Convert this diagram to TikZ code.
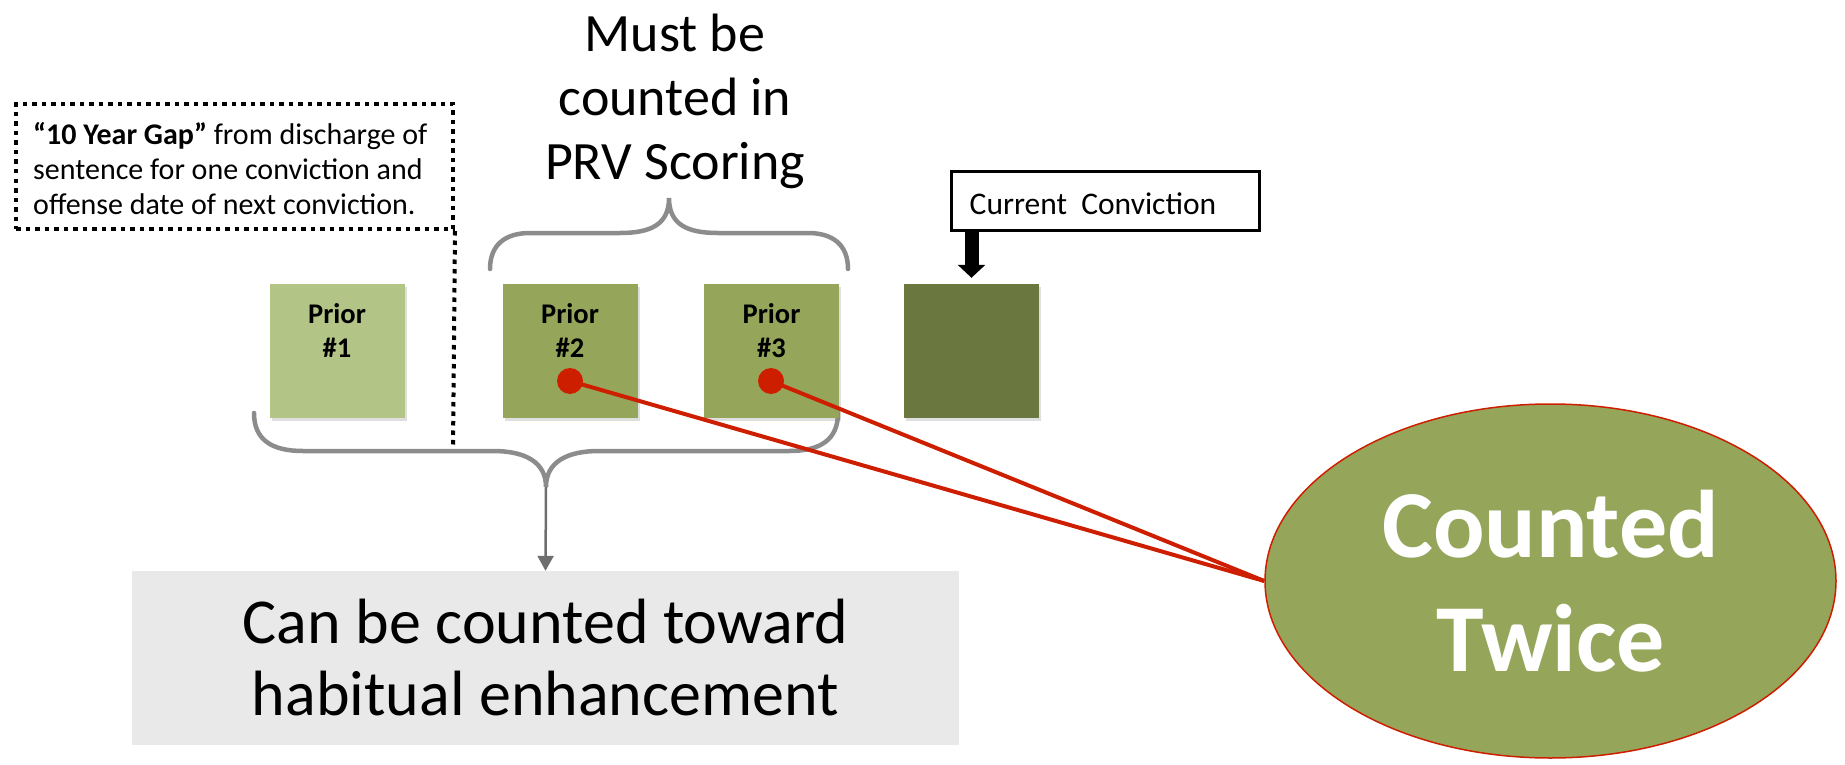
\documentclass[tikz,border=0pt]{standalone}
\usepackage{fontspec}
\setmainfont{Carlito}
\usetikzlibrary{shapes.geometric,arrows.meta,shadows,calc}
\definecolor{priorlight}{RGB}{179,196,135}
\definecolor{priormid}{RGB}{149,166,91}
\definecolor{priordark}{RGB}{106,120,64}
\definecolor{bracegray}{RGB}{140,140,140}
\definecolor{arrowgray}{RGB}{110,110,110}
\definecolor{boxgray}{RGB}{233,233,233}
\definecolor{redline}{RGB}{206,30,0}
\tikzset{
  convbox/.style={rectangle, minimum width=135pt, minimum height=134pt, inner sep=0pt,
    drop shadow={shadow xshift=2pt,shadow yshift=-3pt,opacity=0.25}},
  priortext/.style={font=\fontsize{28.5}{34}\selectfont\bfseries, align=center, inner sep=0pt},
  bracepath/.style={draw=bracegray, line width=4.5pt, line cap=round},
  dotstyle/.style={draw=black, line width=4pt, dash pattern=on 4.5pt off 5pt},
  redconn/.style={draw=redline, line width=4pt},
  reddot/.style={circle, fill=redline, minimum size=26pt, inner sep=0pt},
}
\begin{document}
\begin{tikzpicture}[x=1pt,y=-1pt]
\useasboundingbox (0,0) rectangle (1845,765);

% braces
\draw[bracepath] (490,269) .. controls (490,245) and (505,233) .. (530,233) -- (620,233)
  .. controls (650,233) and (669,225) .. (669,198)
  .. controls (669,225) and (688,233) .. (718,233) -- (808,233)
  .. controls (833,233) and (848,245) .. (848,269);
\draw[bracepath] (254,413) .. controls (254,440) and (272,451) .. (303,451) -- (493,451)
  .. controls (525,451) and (546,462) .. (546,487)
  .. controls (546,462) and (567,451) .. (599,451) -- (789,451)
  .. controls (820,451) and (838,440) .. (838,413);
\coordinate (bbtip) at (546,487);

% top label
\node[font=\fontsize{54}{64}\selectfont, align=center, inner sep=0pt] (must) at (675,101)
  {Must be\\counted in\\PRV Scoring};

% gap box
\node[dotstyle, rectangle, minimum width=437pt, minimum height=125pt, inner sep=0pt] (gap) at (234.5,166.5) {};
\node[font=\fontsize{30}{35}\selectfont, align=left, anchor=west, inner sep=0pt] (gaptext) at ([xshift=19pt,yshift=-2pt]gap.west)
  {\textbf{“10 Year Gap”} from discharge of\\sentence for one conviction and\\offense date of next conviction.};
\coordinate (gapend) at (453,449);
\draw[dotstyle] (gap.south east) -- (gapend);

% conviction boxes
\node[convbox, fill=priorlight] (p1) at (337,351) {};
\node[convbox, fill=priormid] (p2) at (570,351) {};
\node[convbox, fill=priormid] (p3) at (771.5,351) {};
\node[convbox, fill=priordark] (cur) at (971.5,351) {};
\node[priortext] (t1) at ([yshift=-47pt]p1.north) {Prior\\\#1};
\node[priortext] (t2) at ([yshift=-47pt]p2.north) {Prior\\\#2};
\node[priortext] (t3) at ([yshift=-47pt]p3.north) {Prior\\\#3};

% current conviction callout
\node[draw=black, line width=3pt, fill=white, rectangle, minimum width=308pt, minimum height=58pt, inner sep=0pt] (cc) at (1105,201) {};
\node[font=\fontsize{31.5}{36}\selectfont, anchor=west, inner sep=0pt] (cctext) at ([xshift=20pt,yshift=-3pt]cc.west) {Current\ \ Conviction};
\draw[line width=14pt, -{Triangle[width=27pt,length=13pt]}] (cc.south west -| cur.north) -- ([yshift=6pt]cur.north);

% gray box
\node[fill=boxgray, rectangle, minimum width=827pt, minimum height=174pt, inner sep=0pt,
  font=\fontsize{64}{72}\selectfont, align=center] (gbox) at (545.5,658)
  {Can be counted toward\\habitual enhancement};
\draw[draw=arrowgray, line width=2.5pt, -{Triangle[width=16pt,length=15pt]}] (bbtip) -- (gbox.north);

% ellipse and red connectors
\node[ellipse, fill=priormid, draw=redline, line width=1.5pt, minimum width=571pt, minimum height=354pt, inner sep=0pt,
  font=\fontsize{96}{114}\selectfont\bfseries, text=white, align=center] (twice) at (1550.5,581) {Counted\\Twice};
\node[reddot] (d2) at (570,381) {};
\node[reddot] (d3) at (771,381) {};
\draw[redconn] (d2.center) -- (twice.west);
\draw[redconn] (d3.center) -- (twice.west);
\end{tikzpicture}
\end{document}
